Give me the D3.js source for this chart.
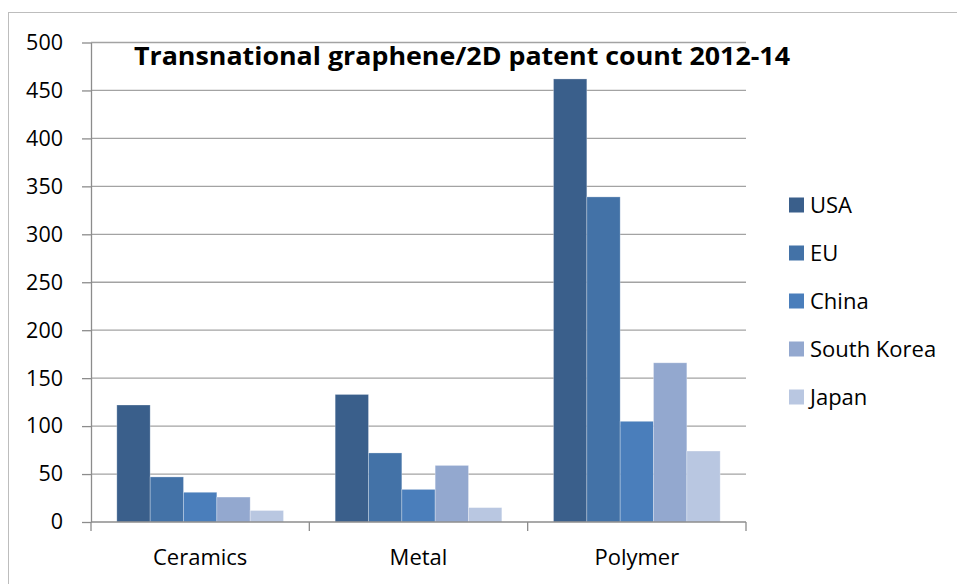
<!DOCTYPE html>
<html>
<head>
<meta charset="utf-8">
<script src="https://cdn.jsdelivr.net/npm/d3@7/dist/d3.min.js"></script>
<style>
  html, body { margin: 0; padding: 0; background: #fff; }
  svg { display: block; }
  text { font-family: "Open Sans", "DejaVu Sans", sans-serif; fill: #000; }
</style>
</head>
<body>
<svg id="chart" width="957" height="584"></svg>
<script>
// Transnational graphene/2D patent counts, 2012-14
const categories = ["Ceramics", "Metal", "Polymer"];
const countries = ["USA", "EU", "China", "South Korea", "Japan"];
const usa = [122, 133, 462];
const eu = [47, 72, 339];
const china = [31, 34, 105];
const southKorea = [26, 59, 166];
const japan = [12, 15, 74];
const yTicks = [0, 50, 100, 150, 200, 250, 300, 350, 400, 450, 500];
const colors = ["#3a5f8b", "#4372a7", "#4a7ebb", "#93a8cf", "#b9c7e1"];

const seriesValues = [usa, eu, china, southKorea, japan];
const rows = categories.map((c, i) => ({
  category: c,
  values: countries.map((k, j) => ({ key: k, value: seriesValues[j][i] }))
}));

const svg = d3.select("#chart");
const plot = { left: 91, right: 746, top: 42.5, bottom: 522 };

// chart frame
svg.append("rect")
  .attr("x", 8.5).attr("y", 12.5)
  .attr("width", 1000).attr("height", 700)
  .attr("fill", "none").attr("stroke", "#bdbdbd").attr("stroke-width", 1);

const x0 = d3.scaleBand().domain(categories).range([plot.left, plot.right]).paddingInner(0).paddingOuter(0);
const x1 = d3.scaleBand().domain(countries).range([0, x0.bandwidth()]).paddingOuter(0.155 * 5).paddingInner(0);
const y = d3.scaleLinear().domain([0, 500]).range([plot.bottom, plot.top]);

// horizontal gridlines
svg.append("g")
  .selectAll("line")
  .data(yTicks.filter(t => t > 0))
  .join("line")
  .attr("x1", plot.left).attr("x2", plot.right)
  .attr("y1", d => y(d)).attr("y2", d => y(d))
  .attr("stroke", "#a3a3a3").attr("stroke-width", 1.3);

// bars
svg.append("g")
  .selectAll("g")
  .data(rows)
  .join("g")
  .attr("transform", d => `translate(${x0(d.category)},0)`)
  .selectAll("rect")
  .data(d => d.values)
  .join("rect")
  .attr("x", d => x1(d.key))
  .attr("y", d => y(d.value))
  .attr("width", x1.bandwidth())
  .attr("height", d => y(0) - y(d.value))
  .attr("fill", (d, i) => colors[i])
  .attr("stroke", "rgba(255,255,255,0.35)")
  .attr("stroke-width", 0.8);

// y axis
const yAxis = svg.append("g")
  .attr("transform", `translate(${plot.left},0)`)
  .call(d3.axisLeft(y).tickValues(yTicks).tickSize(9).tickPadding(19).tickSizeOuter(0));
yAxis.select(".domain").attr("stroke", "#8c8c8c").attr("stroke-width", 1.3);
yAxis.selectAll(".tick line").attr("stroke", "#8c8c8c").attr("stroke-width", 1.3);
yAxis.selectAll(".tick text").attr("font-size", 21.5).attr("fill", "#000")
  .style("font-family", "'Open Sans', sans-serif");

// x axis with ticks at category boundaries
const xAxisG = svg.append("g").attr("transform", `translate(0,${plot.bottom})`);
xAxisG.append("line")
  .attr("x1", plot.left).attr("x2", plot.right)
  .attr("stroke", "#8c8c8c").attr("stroke-width", 1.3);
const bounds = categories.map(c => x0(c)).concat([x0(categories[categories.length - 1]) + x0.bandwidth()]);
xAxisG.selectAll("line.tk")
  .data(bounds)
  .join("line").attr("class", "tk")
  .attr("x1", d => d).attr("x2", d => d)
  .attr("y1", 0).attr("y2", 9)
  .attr("stroke", "#8c8c8c").attr("stroke-width", 1.3);
xAxisG.selectAll("text")
  .data(categories)
  .join("text")
  .attr("x", d => x0(d) + x0.bandwidth() / 2)
  .attr("y", 43)
  .attr("text-anchor", "middle")
  .attr("font-size", 22)
  .text(d => d);

// title
svg.append("text")
  .attr("x", 134).attr("y", 65)
  .attr("font-size", 25).attr("font-weight", "bold")
  .attr("textLength", 656).attr("lengthAdjust", "spacingAndGlyphs")
  .text("Transnational graphene/2D patent count 2012-14");

// legend
const legend = svg.append("g");
const legendRows = legend.selectAll("g")
  .data(countries)
  .join("g")
  .attr("transform", (d, i) => `translate(789,${205 + i * 48})`);
legendRows.append("rect")
  .attr("x", 0).attr("y", -7.5)
  .attr("width", 15).attr("height", 15)
  .attr("fill", (d, i) => colors[i]);
legendRows.append("text")
  .attr("x", 21).attr("y", 0)
  .attr("dy", "0.36em")
  .attr("font-size", 22)
  .text(d => d);
</script>
</body>
</html>
